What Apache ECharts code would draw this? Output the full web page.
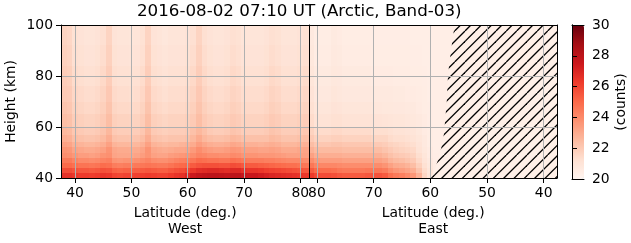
<!DOCTYPE html>
<html><head><meta charset="utf-8">
<script src="https://cdn.jsdelivr.net/npm/echarts@6/dist/echarts.min.js"></script>
<style>html,body{margin:0;padding:0;background:#fff}#c{width:631px;height:243px}</style>
</head><body><div id="c"></div>
<script>
// ---- data ----
const titleText = '2016-08-02 07:10 UT (Arctic, Band-03)';
const heightEdges = [40,42,44,46,48,50,52,54,57,60,65,70,76,84,92,100];
const heightTicks = [40,60,80,100];
const latTicks = [40,50,60,70,80];
const countTicks = [20,22,24,26,28,30];
const redsColors = ['#fff5f0','#fee0d2','#fcbba1','#fc9272','#fb6a4a','#ef3b2c','#cb181d','#a50f15','#67000d'];

const westLat = [38,39,40,41,42,43,44,45,46,47,48,49,50,51,52,53,54,55,56,57,58,59,60,61,62,63,64,65,66,67,68,69,70,71,72,73,74,75,76,77,78,79,80,81];
// each entry: one latitude column, values from 40 km upward (one per height band)
const westCols = [
[26.6,25.8,25.0,24.5,23.9,23.7,23.3,22.9,22.6,22.4,22.2,22.0,21.9,21.75,21.65],
[26.6,25.8,25.0,24.5,23.8,23.6,23.2,22.8,22.5,22.3,22.1,21.95,21.8,21.65,21.55],
[26.4,25.6,24.8,24.2,23.6,23.2,22.8,22.4,22.1,21.9,21.7,21.55,21.4,21.25,21.15],
[26.3,25.5,24.7,24.0,23.4,23.1,22.7,22.3,22.0,21.8,21.6,21.45,21.3,21.15,21.05],
[26.3,25.5,24.7,24.0,23.4,23.0,22.6,22.2,21.9,21.7,21.5,21.35,21.2,21.05,20.95],
[26.2,25.4,24.6,23.9,23.3,23.0,22.6,22.2,21.9,21.7,21.5,21.35,21.2,21.05,20.95],
[26.3,25.5,24.7,24.0,23.4,23.1,22.7,22.3,22.0,21.8,21.6,21.45,21.3,21.15,21.05],
[26.5,25.7,24.9,24.2,23.7,23.3,22.9,22.5,22.2,22.0,21.8,21.65,21.5,21.35,21.25],
[26.4,25.6,24.8,24.3,23.8,23.7,23.3,22.9,22.6,22.4,22.2,22.05,21.9,21.75,21.65],
[26.0,25.2,24.4,23.7,23.2,23.1,22.7,22.3,22.0,21.8,21.6,21.45,21.3,21.15,21.05],
[25.9,25.1,24.3,23.6,23.1,23.0,22.6,22.2,21.9,21.7,21.5,21.35,21.2,21.05,20.95],
[26.0,25.2,24.4,23.7,23.1,23.0,22.6,22.2,21.9,21.7,21.5,21.35,21.2,21.05,20.95],
[26.0,25.2,24.4,23.7,23.1,22.95,22.55,22.15,21.85,21.65,21.45,21.3,21.15,21.0,20.9],
[26.1,25.3,24.5,23.8,23.2,23.0,22.6,22.2,21.9,21.7,21.5,21.35,21.2,21.05,20.95],
[26.2,25.4,24.6,24.0,23.4,23.2,22.8,22.4,22.1,21.9,21.7,21.55,21.4,21.25,21.15],
[26.3,25.5,24.7,24.2,23.7,23.7,23.3,22.9,22.6,22.4,22.2,22.05,21.9,21.75,21.65],
[26.2,25.4,24.6,23.9,23.3,23.1,22.7,22.3,22.0,21.8,21.6,21.45,21.3,21.15,21.05],
[26.1,25.3,24.5,23.8,23.2,23.0,22.6,22.2,21.9,21.7,21.5,21.35,21.2,21.05,20.95],
[26.1,25.3,24.5,23.8,23.2,22.9,22.5,22.1,21.8,21.6,21.4,21.25,21.1,20.95,20.85],
[26.3,25.5,24.7,24.0,23.4,23.0,22.6,22.2,21.9,21.7,21.5,21.35,21.2,21.05,20.95],
[26.5,25.7,24.9,24.2,23.5,23.1,22.6,22.2,21.9,21.7,21.5,21.35,21.2,21.05,20.95],
[26.6,25.8,25.0,24.3,23.6,23.1,22.7,22.2,21.9,21.7,21.5,21.35,21.2,21.05,20.95],
[27.0,26.0,25.1,24.4,23.7,23.2,22.8,22.3,22.0,21.8,21.6,21.45,21.3,21.15,21.05],
[27.5,26.4,25.4,24.6,23.9,23.5,23.0,22.6,22.3,22.0,21.8,21.65,21.5,21.35,21.25],
[27.8,26.7,25.6,24.9,24.2,23.9,23.4,23.0,22.6,22.4,22.2,22.05,21.9,21.75,21.65],
[27.9,26.8,25.7,24.8,24.1,23.6,23.1,22.6,22.3,22.0,21.8,21.65,21.5,21.35,21.25],
[28.0,26.9,25.7,24.7,23.9,23.4,22.9,22.4,22.0,21.8,21.6,21.45,21.3,21.15,21.05],
[28.0,26.9,25.7,24.7,23.9,23.3,22.8,22.3,21.9,21.7,21.5,21.35,21.2,21.05,20.95],
[27.9,26.8,25.6,24.6,23.8,23.3,22.8,22.3,21.9,21.7,21.5,21.35,21.2,21.05,20.95],
[27.8,26.7,25.6,24.6,23.8,23.4,22.9,22.4,22.0,21.8,21.6,21.45,21.3,21.15,21.05],
[28.0,26.9,25.8,24.8,24.0,23.6,23.1,22.6,22.2,22.0,21.8,21.65,21.5,21.35,21.25],
[28.0,26.9,25.7,24.7,23.9,23.5,23.0,22.5,22.1,21.9,21.7,21.55,21.4,21.25,21.15],
[27.7,26.6,25.5,24.5,23.7,23.3,22.8,22.3,21.9,21.7,21.5,21.35,21.2,21.05,20.95],
[27.6,26.5,25.4,24.4,23.7,23.3,22.8,22.3,21.9,21.7,21.5,21.35,21.2,21.05,20.95],
[27.6,26.5,25.4,24.4,23.7,23.3,22.8,22.3,21.9,21.7,21.5,21.35,21.2,21.05,20.95],
[27.4,26.4,25.3,24.4,23.6,23.2,22.7,22.3,21.9,21.7,21.5,21.35,21.2,21.05,20.95],
[27.2,26.2,25.2,24.3,23.6,23.2,22.8,22.3,22.0,21.8,21.6,21.45,21.3,21.15,21.05],
[27.0,26.1,25.1,24.3,23.6,23.3,22.9,22.5,22.2,22.0,21.8,21.65,21.5,21.35,21.25],
[26.9,26.0,25.0,24.2,23.5,23.2,22.8,22.4,22.1,21.9,21.7,21.55,21.4,21.25,21.15],
[26.8,25.9,24.9,24.1,23.4,23.0,22.6,22.2,21.9,21.7,21.5,21.35,21.2,21.05,20.95],
[26.7,25.8,24.8,24.0,23.3,23.0,22.6,22.2,21.9,21.7,21.5,21.35,21.2,21.05,20.95],
[26.6,25.7,24.8,24.0,23.3,23.0,22.6,22.2,21.9,21.7,21.5,21.35,21.2,21.05,20.95],
[26.5,25.6,24.7,24.0,23.3,23.1,22.7,22.3,22.0,21.8,21.6,21.45,21.3,21.15,21.05],
[26.4,25.5,24.6,23.9,23.3,23.2,22.8,22.4,22.1,21.9,21.7,21.55,21.4,21.25,21.15]
];

const eastLat = [81,80,79,78,77,76,75,74,73,72,71,70,69,68,67,66,65,64,63,62,61,60,59,58,57,56,55];
const eastCols = [
[26.3,25.4,24.6,23.9,23.3,22.8,22.4,22.0,21.7,21.4,21.2,21.05,20.9,20.8,20.7],
[25.9,25.0,24.2,23.5,22.9,22.5,22.1,21.7,21.4,21.1,20.9,20.75,20.65,20.55,20.5],
[25.8,24.9,24.1,23.4,22.9,22.5,22.1,21.7,21.4,21.1,20.9,20.75,20.65,20.55,20.5],
[25.8,24.9,24.1,23.4,22.9,22.5,22.1,21.7,21.4,21.1,20.9,20.75,20.65,20.55,20.5],
[25.7,24.8,24.1,23.4,22.9,22.5,22.2,21.8,21.5,21.2,21.05,20.9,20.8,20.7,20.65],
[25.5,24.6,24.0,23.4,22.9,22.5,22.2,21.8,21.5,21.2,21.0,20.85,20.75,20.65,20.6],
[25.4,24.5,23.9,23.3,22.8,22.4,22.1,21.7,21.4,21.1,20.9,20.75,20.65,20.55,20.5],
[25.4,24.5,23.9,23.3,22.8,22.4,22.1,21.7,21.4,21.1,20.9,20.75,20.65,20.55,20.5],
[25.4,24.5,23.9,23.3,22.8,22.4,22.1,21.7,21.4,21.1,20.9,20.75,20.65,20.55,20.5],
[25.4,24.5,23.9,23.3,22.8,22.4,22.1,21.7,21.4,21.1,20.9,20.75,20.65,20.55,20.5],
[25.5,24.6,23.9,23.3,22.8,22.4,22.1,21.7,21.4,21.1,20.9,20.75,20.65,20.55,20.5],
[25.6,24.6,23.9,23.3,22.8,22.4,22.0,21.6,21.3,21.05,20.85,20.7,20.6,20.5,20.45],
[25.6,24.6,23.9,23.3,22.8,22.4,22.0,21.6,21.3,21.05,20.85,20.7,20.6,20.5,20.45],
[25.4,24.4,23.7,23.1,22.6,22.2,21.9,21.6,21.3,21.0,20.8,20.7,20.6,20.5,20.45],
[24.8,23.9,23.3,22.7,22.3,22.0,21.7,21.4,21.2,20.95,20.8,20.7,20.6,20.5,20.45],
[24.5,23.6,23.0,22.5,22.1,21.8,21.6,21.3,21.1,20.9,20.75,20.65,20.55,20.5,20.45],
[24.3,23.4,22.9,22.4,22.0,21.7,21.5,21.3,21.1,20.9,20.75,20.65,20.55,20.5,20.45],
[24.0,23.2,22.7,22.2,21.9,21.6,21.4,21.2,21.0,20.85,20.7,20.6,20.55,20.5,20.45],
[23.6,22.9,22.4,22.0,21.7,21.5,21.3,21.1,20.95,20.8,20.7,20.6,20.5,20.45,20.4],
[22.8,22.2,21.8,21.5,21.3,21.1,21.0,20.9,20.8,20.7,20.6,20.55,20.5,20.45,20.4],
[21.6,21.4,21.2,21.0,20.9,20.8,20.7,20.7,20.6,20.6,20.5,20.5,20.45,20.4,20.4],
[21.0,20.9,20.8,20.7,20.6,20.6,20.5,20.5,20.5,20.45,20.45,20.4,20.4,20.4,20.4],
[20.5,20.5,20.5,20.45,20.45,20.4,20.4,20.4,20.4,20.4,20.4,20.4,20.4,20.4,20.4],
[20.4,20.4,20.4,20.4,20.4,20.4,20.4,20.4,20.4,20.4,20.4,20.4,20.4,20.4,20.4],
[20.4,20.4,20.4,20.4,20.4,20.4,20.4,20.4,20.4,20.4,20.4,20.4,20.4,20.4,20.4],
[20.4,20.4,20.4,20.4,20.4,20.4,20.4,20.4,20.4,20.4,20.4,20.4,20.4,20.4,20.4],
[20.4,20.4,20.4,20.4,20.4,20.4,20.4,20.4,20.4,20.4,20.4,20.4,20.4,20.4,20.4]
];

// edge of the hatched (no data) area in the East panel
const hatchHeights = [40, 43.5, 47.4, 52.5, 57.3, 62.3, 70, 79.5, 84, 89, 94, 100];
const hatchLat     = [59.9, 59.2, 58.6, 58.0, 57.6, 57.4, 57.1, 56.9, 56.7, 56.4, 56.1, 55.7];

// ---- build ----
function cells(lats, cols) {
  const out = [];
  lats.forEach((lat, i) => {
    cols[i].forEach((v, r) => out.push([lat, heightEdges[r], heightEdges[r + 1], v]));
  });
  return out;
}
const westData = cells(westLat, westCols);
const eastData = cells(eastLat, eastCols);

function cellItem(params, api) {
  const lat = api.value(0);
  const a = api.coord([lat - 0.5, api.value(1)]);
  const b = api.coord([lat + 0.5, api.value(2)]);
  const x0 = Math.round(Math.min(a[0], b[0])), x1 = Math.round(Math.max(a[0], b[0]));
  const y0 = Math.round(Math.min(a[1], b[1])), y1 = Math.round(Math.max(a[1], b[1]));
  return { type: 'rect', shape: { x: x0, y: y0, width: x1 - x0, height: y1 - y0 },
           style: { fill: api.visual('color') } };
}

const T = 31;
const tile = document.createElement('canvas');
tile.width = T; tile.height = T;
(function () {
  const g = tile.getContext('2d');
  g.fillStyle = '#fff0e8'; g.fillRect(0, 0, T, T);
  g.strokeStyle = '#000'; g.lineWidth = 1.3;
  for (let k = -3; k <= 3; k++) {
    g.beginPath(); g.moveTo(k * T / 3, T); g.lineTo(k * T / 3 + T, 0); g.stroke();
  }
})();

function hatchItem(params, api) {
  const pts = hatchLat.map((lat, i) => api.coord([lat, hatchHeights[i]]));
  pts.push(api.coord([20, hatchHeights[hatchHeights.length - 1]]));
  pts.push(api.coord([20, hatchHeights[0]]));
  return { type: 'polygon', shape: { points: pts },
           style: { fill: { image: tile, repeat: 'repeat' }, stroke: null } };
}

const FONT = 'DejaVu Sans';
const FS = 13.9;
const GRIDC = '#b0b0b0';
const westMin = 37.5, westMax = 81.6, eastMin = 37.65, eastMax = 81.35;

function lineOnly(extra) {
  return Object.assign({
    type: 'value', z: 10,
    axisLine: { show: true, lineStyle: { color: '#000', width: 1 } },
    axisTick: { show: false }, axisLabel: { show: false }, splitLine: { show: false }
  }, extra);
}
function latAxis(grid, min, max, inverse, name) {
  return {
    type: 'value', gridIndex: grid, min: min, max: max, inverse: inverse, position: 'bottom', z: 10,
    axisLine: { show: true, onZero: false, lineStyle: { color: '#000', width: 1 } },
    axisTick: { show: true, inside: false, length: 5, customValues: latTicks, lineStyle: { color: '#000', width: 1 } },
    axisLabel: { show: true, customValues: latTicks, margin: 8, color: '#000', fontSize: FS, fontFamily: FONT },
    splitLine: { show: true, lineStyle: { color: GRIDC, width: 1 } },
    name: name, nameLocation: 'middle', nameGap: 27,
    nameTextStyle: { color: '#000', fontSize: FS, fontFamily: FONT, lineHeight: 16.5 }
  };
}

const chart = echarts.init(document.getElementById('c'), null, { renderer: 'canvas' });
chart.setOption({
  animation: false,
  backgroundColor: '#fff',
  title: { text: titleText, left: 137, top: 3, padding: 0,
           textStyle: { color: '#000', fontSize: 16.7, fontWeight: 'normal', fontFamily: FONT } },
  grid: [
    { left: 61, top: 25, width: 248.3, height: 154 },
    { left: 309.3, top: 25, width: 247.7, height: 154 },
    { left: 572, top: 25, width: 12, height: 154 }
  ],
  xAxis: [
    latAxis(0, westMin, westMax, false, 'Latitude (deg.)\nWest'),
    latAxis(1, eastMin, eastMax, true, 'Latitude (deg.)\nEast'),
    lineOnly({ gridIndex: 0, min: westMin, max: westMax, position: 'top' }),
    lineOnly({ gridIndex: 1, min: eastMin, max: eastMax, inverse: true, position: 'top' }),
    lineOnly({ gridIndex: 2, min: 0, max: 1, position: 'bottom' }),
    lineOnly({ gridIndex: 2, min: 0, max: 1, position: 'top' })
  ],
  yAxis: [
    { type: 'value', gridIndex: 0, min: heightTicks[0], max: heightTicks[heightTicks.length - 1], interval: 20, position: 'left', z: 10,
      axisLine: { show: true, lineStyle: { color: '#000', width: 1 } },
      axisTick: { show: true, inside: false, length: 5, lineStyle: { color: '#000', width: 1 } },
      axisLabel: { margin: 8, color: '#000', fontSize: FS, fontFamily: FONT },
      splitLine: { show: true, showMinLine: false, showMaxLine: false, lineStyle: { color: GRIDC, width: 1 } },
      name: 'Height (km)', nameLocation: 'middle', nameRotate: 90, nameGap: 43,
      nameTextStyle: { color: '#000', fontSize: FS, fontFamily: FONT } },
    lineOnly({ gridIndex: 0, min: 40, max: 100, position: 'right' }),
    { type: 'value', gridIndex: 1, min: 40, max: 100, interval: 20, position: 'right', z: 10,
      axisLine: { show: true, lineStyle: { color: '#000', width: 1 } },
      axisTick: { show: false }, axisLabel: { show: false },
      splitLine: { show: true, showMinLine: false, showMaxLine: false, lineStyle: { color: GRIDC, width: 1 } } },
    lineOnly({ gridIndex: 2, min: 20, max: 30, position: 'left' }),
    { type: 'value', gridIndex: 2, min: countTicks[0], max: countTicks[countTicks.length - 1], interval: 2, position: 'right', z: 10,
      axisLine: { show: true, lineStyle: { color: '#000', width: 1 } },
      axisTick: { show: true, inside: false, length: 5, lineStyle: { color: '#000', width: 1 } },
      axisLabel: { margin: 8, color: '#000', fontSize: FS, fontFamily: FONT },
      splitLine: { show: false },
      name: '(counts)', nameLocation: 'middle', nameRotate: 90, nameGap: 30,
      nameTextStyle: { color: '#000', fontSize: FS, fontFamily: FONT } }
  ],
  visualMap: {
    type: 'continuous', min: 20, max: 30, dimension: 3, seriesIndex: [0, 1],
    inRange: { color: redsColors }, calculable: false, orient: 'vertical',
    left: 572, top: 25, itemWidth: 12, itemHeight: 154, padding: 0, text: null, show: true, hoverLink: false
  },
  series: [
    { type: 'custom', xAxisIndex: 0, yAxisIndex: 0, clip: true, renderItem: cellItem,
      dimensions: ['lat', 'h0', 'h1', 'counts'], encode: { x: 0, y: 1 }, data: westData, silent: true },
    { type: 'custom', xAxisIndex: 1, yAxisIndex: 2, clip: true, renderItem: cellItem,
      dimensions: ['lat', 'h0', 'h1', 'counts'], encode: { x: 0, y: 1 }, data: eastData, silent: true },
    { type: 'custom', xAxisIndex: 1, yAxisIndex: 2, clip: true, z: 3, renderItem: hatchItem,
      data: [[hatchLat[0], hatchHeights[0]]], silent: true }
  ]
});
</script></body></html>
